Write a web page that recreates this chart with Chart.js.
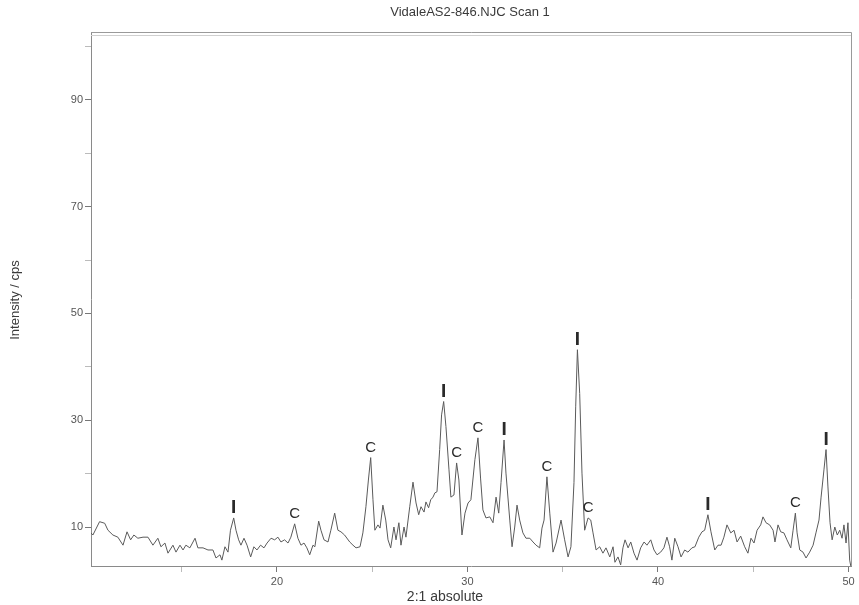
<!DOCTYPE html>
<html>
<head>
<meta charset="utf-8">
<script src="https://cdn.jsdelivr.net/npm/chart.js@4.4.1/dist/chart.umd.min.js"></script>
<style>
  html, body { margin: 0; padding: 0; background: #fff; }
  #wrap { width: 859px; height: 605px; }
</style>
</head>
<body>
<div id="wrap"><canvas id="chart" width="859" height="605"></canvas></div>
<script>
// 2-theta positions (deg) and intensity (cps)
const twoTheta = [
  10.24, 10.34, 10.69, 10.96, 11.13, 11.39, 11.65, 11.92, 12.13, 12.32, 12.49, 12.70, 12.97, 13.23, 13.49, 13.75,
  13.91, 14.12, 14.28, 14.54, 14.70, 14.91, 15.07, 15.22, 15.43, 15.70, 15.85, 16.12, 16.38, 16.64, 16.80, 17.01,
  17.11, 17.27, 17.43, 17.56, 17.73, 17.85, 17.99, 18.11, 18.27, 18.43, 18.62, 18.79, 18.95, 19.14, 19.32, 19.48,
  19.69, 19.88, 20.05, 20.21, 20.40, 20.58, 20.73, 20.93, 21.10, 21.26, 21.42, 21.57, 21.72, 21.89, 21.99, 22.19,
  22.31, 22.47, 22.68, 22.83, 23.03, 23.20, 23.36, 23.55, 23.82, 23.99, 24.15, 24.36, 24.51, 24.67, 24.80, 24.92,
  25.04, 25.14, 25.30, 25.41, 25.56, 25.71, 25.83, 25.97, 26.14, 26.25, 26.40, 26.51, 26.67, 26.77, 26.97, 27.14,
  27.30, 27.44, 27.56, 27.72, 27.82, 27.96, 28.07, 28.19, 28.29, 28.40, 28.54, 28.64, 28.75, 28.87, 29.03, 29.13,
  29.29, 29.43, 29.55, 29.71, 29.87, 30.03, 30.18, 30.39, 30.55, 30.69, 30.81, 30.97, 31.17, 31.34, 31.50, 31.64,
  31.76, 31.92, 32.02, 32.22, 32.34, 32.48, 32.60, 32.74, 32.91, 33.07, 33.27, 33.44, 33.60, 33.79, 33.91, 34.02,
  34.17, 34.32, 34.49, 34.65, 34.91, 35.10, 35.28, 35.43, 35.59, 35.68, 35.77, 35.89, 36.01, 36.15, 36.33, 36.47,
  36.59, 36.75, 36.94, 37.11, 37.27, 37.47, 37.64, 37.74, 37.90, 38.04, 38.16, 38.27, 38.43, 38.57, 38.74, 38.90,
  39.09, 39.27, 39.42, 39.62, 39.79, 39.95, 40.14, 40.31, 40.47, 40.61, 40.73, 40.88, 41.05, 41.21, 41.40, 41.57,
  41.78, 41.94, 42.14, 42.31, 42.45, 42.62, 42.78, 42.98, 43.15, 43.31, 43.46, 43.62, 43.82, 43.99, 44.15, 44.34,
  44.55, 44.72, 44.88, 45.04, 45.20, 45.39, 45.51, 45.67, 45.86, 46.04, 46.14, 46.30, 46.44, 46.61, 46.77, 46.97,
  47.09, 47.21, 47.30, 47.44, 47.61, 47.77, 47.96, 48.14, 48.29, 48.45, 48.56, 48.71, 48.82, 48.92, 49.03, 49.14,
  49.28, 49.41, 49.54, 49.66, 49.76, 49.87, 49.97, 50.06, 50.13
];
const intensity = [
  8.9, 8.5, 11.0, 10.7, 9.4, 8.5, 8.1, 6.6, 9.1, 7.6, 8.5, 7.9, 8.1, 8.1, 6.6, 7.9,
  6.3, 7.0, 5.1, 6.6, 5.3, 6.6, 5.7, 6.6, 6.1, 7.9, 6.1, 6.1, 5.7, 5.7, 4.2, 4.8,
  3.8, 6.3, 5.3, 9.4, 11.7, 9.4, 7.6, 6.6, 7.9, 6.6, 4.4, 6.3, 5.7, 6.6, 6.1, 7.0,
  7.9, 7.6, 8.1, 7.2, 7.6, 7.0, 8.1, 10.6, 7.9, 6.6, 7.0, 6.1, 4.8, 6.6, 6.3, 11.1,
  9.4, 7.6, 7.2, 9.4, 12.6, 9.4, 9.1, 8.5, 7.2, 6.6, 6.1, 6.3, 8.9, 13.8, 18.8, 23.0,
  15.1, 9.4, 10.4, 9.8, 14.1, 11.3, 7.6, 6.1, 10.0, 7.6, 10.8, 6.6, 10.0, 8.1, 13.8, 18.4,
  14.5, 12.3, 13.8, 12.8, 14.7, 13.6, 15.1, 15.6, 16.4, 16.6, 24.5, 31.0, 33.5, 28.8, 20.7, 15.6,
  16.0, 22.0, 18.8, 8.5, 12.6, 14.5, 15.1, 22.6, 26.7, 19.0, 13.2, 11.7, 11.9, 10.8, 15.6, 12.6,
  18.3, 26.3, 20.1, 11.3, 6.3, 10.0, 14.1, 11.3, 8.9, 7.9, 7.9, 7.2, 6.6, 6.1, 9.8, 11.3,
  19.4, 12.6, 5.3, 7.0, 11.3, 7.6, 4.4, 6.3, 18.3, 32.5, 43.2, 35.0, 20.1, 9.4, 11.7, 11.3,
  8.9, 5.7, 6.3, 5.1, 6.1, 4.4, 6.3, 3.4, 4.4, 2.9, 6.1, 7.6, 6.1, 7.2, 5.1, 3.8,
  6.1, 7.2, 6.6, 7.6, 5.7, 4.8, 5.3, 6.1, 8.1, 6.3, 3.8, 7.9, 6.3, 4.4, 5.7, 5.3,
  6.1, 6.3, 8.1, 9.1, 9.4, 12.3, 9.1, 5.7, 6.6, 6.6, 8.1, 10.4, 8.9, 9.4, 7.2, 8.3,
  6.3, 5.1, 7.9, 7.0, 9.4, 10.4, 11.9, 10.8, 10.4, 9.4, 7.2, 10.4, 9.1, 8.9, 7.6, 6.1,
  9.4, 12.6, 8.9, 5.7, 5.3, 4.2, 5.3, 6.6, 8.9, 11.3, 15.6, 20.7, 24.5, 17.5, 10.8, 7.6,
  10.0, 8.5, 9.4, 7.9, 10.4, 7.0, 10.8, 3.8, 2.5
];

// phase markers above peaks (I / C)
const peakNames = ['I', 'C', 'C', 'I', 'C', 'C', 'I', 'C', 'I', 'C', 'I', 'C', 'I'];
const peakPos = [17.73, 20.93, 24.92, 28.75, 29.43, 30.55, 31.92, 34.17, 35.77, 36.33, 42.62, 47.21, 48.82];
const peakCps = [11.7, 10.6, 23.0, 33.5, 22.0, 26.7, 26.3, 19.4, 43.2, 11.7, 12.3, 12.6, 24.5];

const xTicks = [15, 20, 25, 30, 35, 40, 45, 50];
const xTickLabels = [20, 30, 40, 50];
const yTicks = [10, 20, 30, 40, 50, 60, 70, 80, 90, 100];
const yTickLabels = [10, 30, 50, 70, 90];

const chartTitle = 'VidaleAS2-846.NJC Scan 1';
const xTitle = '2:1 absolute';
const yTitle = 'Intensity / cps';

const FONT = '"Liberation Sans", Arial, sans-serif';

let points = twoTheta.map((t, i) => ({ x: t, y: intensity[i] }));

const extras = {
	id: 'extras',
	afterDatasetsDraw: (chart) => {
		const { ctx, chartArea, scales } = chart;
		ctx.save();
		// frame (top / right sides)
		ctx.strokeStyle = '#9a9a9a';
		ctx.lineWidth = 1;
		ctx.beginPath();
		ctx.moveTo(chartArea.left, chartArea.top + 0.5);
		ctx.lineTo(chartArea.right + 0.5, chartArea.top + 0.5);
		ctx.lineTo(chartArea.right + 0.5, chartArea.bottom);
		ctx.stroke();
		ctx.strokeStyle = '#d0d0d0';
		ctx.beginPath();
		ctx.moveTo(chartArea.left, chartArea.top + 3.5);
		ctx.lineTo(chartArea.right, chartArea.top + 3.5);
		ctx.stroke();

		// peak labels
		ctx.fillStyle = '#2a2a2a';
		ctx.textAlign = 'center';
		ctx.textBaseline = 'alphabetic';
		peakNames.forEach((name, i) => {
			const px = scales.x.getPixelForValue(peakPos[i]);
			const py = scales.y.getPixelForValue(peakCps[i]);
			if (name == 'I') {
				ctx.font = 'bold 19px ' + FONT;
				ctx.fillText(name, px, py - 5);
			} else {
				ctx.font = '15px ' + FONT;
				ctx.fillText(name, px, py - 6);
			}
		});

		// titles
		ctx.fillStyle = '#3a3a3a';
		ctx.textBaseline = 'middle';
		ctx.font = '13px ' + FONT;
		ctx.fillText(chartTitle, 470, 12);
		ctx.font = '14px ' + FONT;
		ctx.fillText(xTitle, 445, 597);
		ctx.translate(15, 300);
		ctx.rotate(-Math.PI / 2);
		ctx.font = '13px ' + FONT;
		ctx.fillText(yTitle, 0, 0);
		ctx.restore();
	},
};

let config = {
	type: 'scatter',
	data: {
		datasets: [
			{
				label: 'Scan 1',
				data: points,
				showLine: true,
				borderColor: '#5a5a5a',
				borderWidth: 1,
				pointRadius: 0,
				tension: 0,
			},
		],
	},
	options: {
		responsive: false,
		animation: false,
		events: [],
		layout: { padding: { left: 0, right: 8, top: 32, bottom: 0 } },
		plugins: {
			legend: { display: false },
			title: { display: false },
			tooltip: { enabled: false },
		},
		scales: {
			x: {
				type: 'linear',
				min: 10.24,
				max: 50.13,
				afterBuildTicks: (scale) => { scale.ticks = xTicks.map(v => ({ value: v })); },
				afterFit: (scale) => { scale.height = 39; },
				ticks: {
					autoSkip: false,
					maxRotation: 0,
					padding: 3,
					color: '#555',
					font: { family: FONT, size: 11 },
					callback: (v) => xTickLabels.includes(v) ? String(v) : '',
				},
				grid: {
					drawOnChartArea: false,
					tickLength: 6,
					tickColor: (c) => xTickLabels.includes(c.tick && c.tick.value) ? '#777' : '#bbb',
				},
				border: { display: true, color: '#8a8a8a', width: 1 },
			},
			y: {
				type: 'linear',
				min: 2.7,
				max: 102.7,
				afterBuildTicks: (scale) => { scale.ticks = yTicks.map(v => ({ value: v })); },
				afterFit: (scale) => { scale.width = 91; },
				ticks: {
					autoSkip: false,
					padding: 2,
					color: '#555',
					font: { family: FONT, size: 11 },
					callback: (v) => yTickLabels.includes(v) ? String(v) : '',
				},
				grid: {
					drawOnChartArea: false,
					tickLength: 6,
					tickColor: (c) => yTickLabels.includes(c.tick && c.tick.value) ? '#777' : '#bbb',
				},
				border: { display: true, color: '#8a8a8a', width: 1 },
			},
		},
	},
	plugins: [extras],
};

new Chart(document.getElementById('chart'), config);
</script>
</body>
</html>
